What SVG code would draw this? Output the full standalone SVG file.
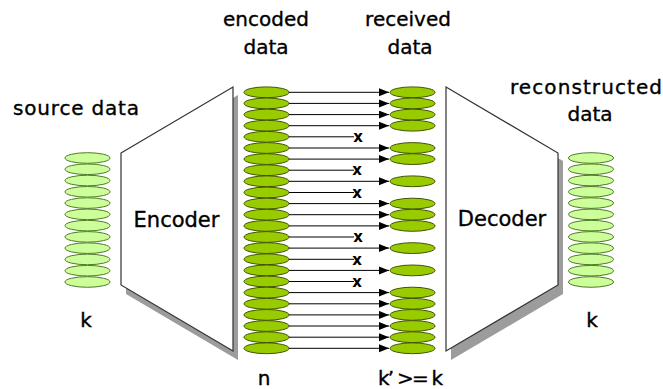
<svg xmlns="http://www.w3.org/2000/svg" width="663" height="389" viewBox="0 0 663 389">
<defs>
<style>
text{font-family:"DejaVu Sans","Liberation Sans",sans-serif;fill:#000;stroke:#000;stroke-width:0.35;}
.lbl{font-size:20px;}
.big{font-size:21px;}
.lt{fill:#ccff99;stroke:#4f7a26;stroke-width:1;}
.dk{fill:#99cc00;stroke:#3f5200;stroke-width:1;}
.box{fill:#fff;stroke:#333;stroke-width:1.2;}
.shadow{fill:#9c9c9c;}
.ln{stroke:#000;stroke-width:1;fill:none;}
.x{font-size:15px;font-weight:bold;text-anchor:middle;stroke-width:0;}
</style>
<marker id="ah" markerUnits="userSpaceOnUse" markerWidth="11" markerHeight="9" refX="10" refY="4" orient="auto">
<path d="M0,0 L10,4 L0,8 z" fill="#000"/>
</marker>
<g id="lt12">
<ellipse class="lt" cx="0" cy="0" rx="22.5" ry="5.3"/>
<ellipse class="lt" cx="0" cy="11.27" rx="22.5" ry="5.3"/>
<ellipse class="lt" cx="0" cy="22.54" rx="22.5" ry="5.3"/>
<ellipse class="lt" cx="0" cy="33.81" rx="22.5" ry="5.3"/>
<ellipse class="lt" cx="0" cy="45.08" rx="22.5" ry="5.3"/>
<ellipse class="lt" cx="0" cy="56.35" rx="22.5" ry="5.3"/>
<ellipse class="lt" cx="0" cy="67.62" rx="22.5" ry="5.3"/>
<ellipse class="lt" cx="0" cy="78.89" rx="22.5" ry="5.3"/>
<ellipse class="lt" cx="0" cy="90.16" rx="22.5" ry="5.3"/>
<ellipse class="lt" cx="0" cy="101.43" rx="22.5" ry="5.3"/>
<ellipse class="lt" cx="0" cy="112.7" rx="22.5" ry="5.3"/>
<ellipse class="lt" cx="0" cy="123.97" rx="22.5" ry="5.3"/>
</g>
</defs>
<rect width="663" height="389" fill="#fff"/>

<g id="source">
<text class="lbl" x="13" y="115" textLength="126">source data</text>
<use href="#lt12" x="87.5" y="158"/>
<text class="lbl" x="86" y="327" text-anchor="middle">k</text>
</g>

<g id="encoder">
<polygon class="shadow" points="126,161 238,95 238,360 126,294"/>
<polygon class="box" points="121,153 233,87 233,351 121,285"/>
<text class="big" x="176.5" y="227" text-anchor="middle">Encoder</text>
</g>

<g id="encoded">
<text class="lbl" x="266" y="26" text-anchor="middle">encoded</text>
<text class="lbl" x="266" y="54" text-anchor="middle">data</text>
<ellipse class="dk" cx="266.5" cy="92.3" rx="22.5" ry="5.4"/>
<ellipse class="dk" cx="266.5" cy="103.4" rx="22.5" ry="5.4"/>
<ellipse class="dk" cx="266.5" cy="114.6" rx="22.5" ry="5.4"/>
<ellipse class="dk" cx="266.5" cy="125.7" rx="22.5" ry="5.4"/>
<ellipse class="dk" cx="266.5" cy="136.8" rx="22.5" ry="5.4"/>
<ellipse class="dk" cx="266.5" cy="148.0" rx="22.5" ry="5.4"/>
<ellipse class="dk" cx="266.5" cy="159.1" rx="22.5" ry="5.4"/>
<ellipse class="dk" cx="266.5" cy="170.2" rx="22.5" ry="5.4"/>
<ellipse class="dk" cx="266.5" cy="181.3" rx="22.5" ry="5.4"/>
<ellipse class="dk" cx="266.5" cy="192.5" rx="22.5" ry="5.4"/>
<ellipse class="dk" cx="266.5" cy="203.6" rx="22.5" ry="5.4"/>
<ellipse class="dk" cx="266.5" cy="214.7" rx="22.5" ry="5.4"/>
<ellipse class="dk" cx="266.5" cy="225.9" rx="22.5" ry="5.4"/>
<ellipse class="dk" cx="266.5" cy="237.0" rx="22.5" ry="5.4"/>
<ellipse class="dk" cx="266.5" cy="248.1" rx="22.5" ry="5.4"/>
<ellipse class="dk" cx="266.5" cy="259.3" rx="22.5" ry="5.4"/>
<ellipse class="dk" cx="266.5" cy="270.4" rx="22.5" ry="5.4"/>
<ellipse class="dk" cx="266.5" cy="281.5" rx="22.5" ry="5.4"/>
<ellipse class="dk" cx="266.5" cy="292.6" rx="22.5" ry="5.4"/>
<ellipse class="dk" cx="266.5" cy="303.8" rx="22.5" ry="5.4"/>
<ellipse class="dk" cx="266.5" cy="314.9" rx="22.5" ry="5.4"/>
<ellipse class="dk" cx="266.5" cy="326.0" rx="22.5" ry="5.4"/>
<ellipse class="dk" cx="266.5" cy="337.2" rx="22.5" ry="5.4"/>
<ellipse class="dk" cx="266.5" cy="348.3" rx="22.5" ry="5.4"/>
<text class="lbl" x="264" y="385" text-anchor="middle">n</text>
</g>

<g id="connectors">
<line class="ln" x1="289" y1="92.3" x2="389" y2="92.3" marker-end="url(#ah)"/>
<line class="ln" x1="289" y1="103.4" x2="389" y2="103.4" marker-end="url(#ah)"/>
<line class="ln" x1="289" y1="114.6" x2="389" y2="114.6" marker-end="url(#ah)"/>
<line class="ln" x1="289" y1="125.7" x2="389" y2="125.7" marker-end="url(#ah)"/>
<line class="ln" x1="289" y1="136.8" x2="354" y2="136.8"/>
<text class="x" x="358" y="142">x</text>
<line class="ln" x1="289" y1="148.0" x2="389" y2="148.0" marker-end="url(#ah)"/>
<line class="ln" x1="289" y1="159.1" x2="389" y2="159.1" marker-end="url(#ah)"/>
<line class="ln" x1="289" y1="170.2" x2="354" y2="170.2"/>
<text class="x" x="357" y="175.4">x</text>
<line class="ln" x1="289" y1="181.3" x2="389" y2="181.3" marker-end="url(#ah)"/>
<line class="ln" x1="289" y1="192.5" x2="354" y2="192.5"/>
<text class="x" x="357" y="197.7">x</text>
<line class="ln" x1="289" y1="203.6" x2="389" y2="203.6" marker-end="url(#ah)"/>
<line class="ln" x1="289" y1="214.7" x2="389" y2="214.7" marker-end="url(#ah)"/>
<line class="ln" x1="289" y1="225.9" x2="389" y2="225.9" marker-end="url(#ah)"/>
<line class="ln" x1="289" y1="237.0" x2="354" y2="237.0"/>
<text class="x" x="358" y="242.2">x</text>
<line class="ln" x1="289" y1="248.1" x2="389" y2="248.1" marker-end="url(#ah)"/>
<line class="ln" x1="289" y1="259.3" x2="354" y2="259.3"/>
<text class="x" x="357" y="264.5">x</text>
<line class="ln" x1="289" y1="270.4" x2="389" y2="270.4" marker-end="url(#ah)"/>
<line class="ln" x1="289" y1="281.5" x2="354" y2="281.5"/>
<text class="x" x="357" y="286.7">x</text>
<line class="ln" x1="289" y1="292.6" x2="389" y2="292.6" marker-end="url(#ah)"/>
<line class="ln" x1="289" y1="303.8" x2="389" y2="303.8" marker-end="url(#ah)"/>
<line class="ln" x1="289" y1="314.9" x2="389" y2="314.9" marker-end="url(#ah)"/>
<line class="ln" x1="289" y1="326.0" x2="389" y2="326.0" marker-end="url(#ah)"/>
<line class="ln" x1="289" y1="337.2" x2="389" y2="337.2" marker-end="url(#ah)"/>
<line class="ln" x1="289" y1="348.3" x2="389" y2="348.3" marker-end="url(#ah)"/>
</g>

<g id="received">
<text class="lbl" x="408" y="26" text-anchor="middle">received</text>
<text class="lbl" x="410" y="54" text-anchor="middle">data</text>
<ellipse class="dk" cx="412.5" cy="92.3" rx="22.5" ry="5.4"/>
<ellipse class="dk" cx="412.5" cy="103.4" rx="22.5" ry="5.4"/>
<ellipse class="dk" cx="412.5" cy="114.6" rx="22.5" ry="5.4"/>
<ellipse class="dk" cx="412.5" cy="125.7" rx="22.5" ry="5.4"/>
<ellipse class="dk" cx="412.5" cy="148.0" rx="22.5" ry="5.4"/>
<ellipse class="dk" cx="412.5" cy="159.1" rx="22.5" ry="5.4"/>
<ellipse class="dk" cx="412.5" cy="181.3" rx="22.5" ry="5.4"/>
<ellipse class="dk" cx="412.5" cy="203.6" rx="22.5" ry="5.4"/>
<ellipse class="dk" cx="412.5" cy="214.7" rx="22.5" ry="5.4"/>
<ellipse class="dk" cx="412.5" cy="225.9" rx="22.5" ry="5.4"/>
<ellipse class="dk" cx="412.5" cy="248.1" rx="22.5" ry="5.4"/>
<ellipse class="dk" cx="412.5" cy="270.4" rx="22.5" ry="5.4"/>
<ellipse class="dk" cx="412.5" cy="292.6" rx="22.5" ry="5.4"/>
<ellipse class="dk" cx="412.5" cy="303.8" rx="22.5" ry="5.4"/>
<ellipse class="dk" cx="412.5" cy="314.9" rx="22.5" ry="5.4"/>
<ellipse class="dk" cx="412.5" cy="326.0" rx="22.5" ry="5.4"/>
<ellipse class="dk" cx="412.5" cy="337.2" rx="22.5" ry="5.4"/>
<ellipse class="dk" cx="412.5" cy="348.3" rx="22.5" ry="5.4"/>
<text class="lbl" x="378" y="385" textLength="65">k’ &gt;= k</text>
</g>

<g id="decoder">
<polygon class="shadow" points="451,96 563,161 563,294 451,360"/>
<polygon class="box" points="446,87 558,153 558,285 446,351"/>
<text class="big" x="502" y="226" text-anchor="middle">Decoder</text>
</g>

<g id="reconstructed">
<text class="lbl" x="510" y="94" textLength="152">reconstructed</text>
<text class="lbl" x="590" y="121" text-anchor="middle">data</text>
<use href="#lt12" x="591" y="158"/>
<text class="lbl" x="592" y="327" text-anchor="middle">k</text>
</g>
</svg>
